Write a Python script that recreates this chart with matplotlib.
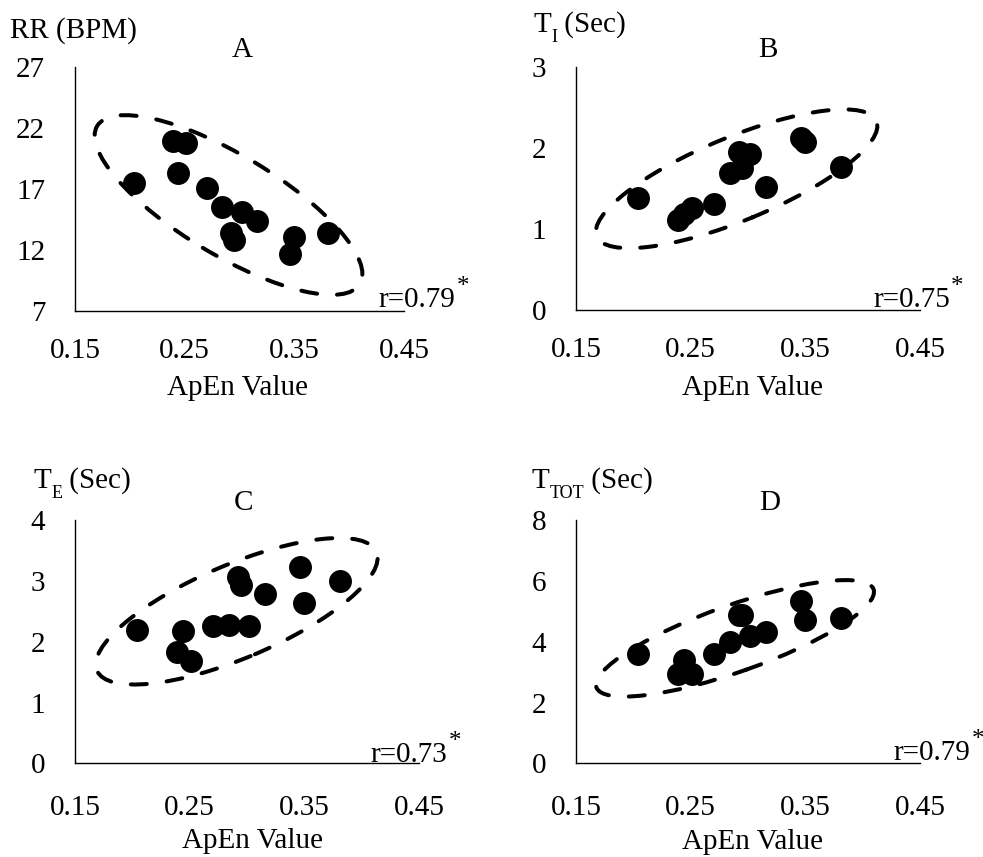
import numpy as np
import matplotlib
matplotlib.use('Agg')
import matplotlib.pyplot as plt
import matplotlib.transforms as transforms
from matplotlib.patches import Ellipse

# ApEn value for each subject (shared x of all four panels)
apen = [0.204, 0.239, 0.244, 0.251, 0.270, 0.284, 0.292, 0.295, 0.302, 0.316, 0.346, 0.350, 0.381]

rr = [17.5, 20.9, 18.3, 20.8, 17.1, 15.5, 13.4, 12.8, 15.1, 14.4, 11.7, 13.1, 13.4]
ti = [1.38, 1.11, 1.19, 1.26, 1.31, 1.69, 1.95, 1.75, 1.93, 1.52, 2.12, 2.07, 1.77]
te = [2.19, 1.83, 2.18, 1.69, 2.25, 2.28, 3.06, 2.94, 2.25, 2.78, 3.22, 2.64, 3.00]
ttot = [3.58, 2.94, 3.39, 2.94, 3.61, 4.00, 4.89, 4.89, 4.20, 4.31, 5.35, 4.72, 4.78]

panel_ids = ['A', 'B', 'C', 'D']
ylab_main = ['RR (BPM)', 'T', 'T', 'T']
ylab_sub = ['', 'I', 'E', 'TOT']
r_values = ['0.79', '0.75', '0.73', '0.79']
ylims = [(7, 27), (0, 3), (0, 4), (0, 8)]
yticks = [[7, 12, 17, 22, 27], [0, 1, 2, 3], [0, 1, 2, 3, 4], [0, 2, 4, 6, 8]]
xticks = [0.15, 0.25, 0.35, 0.45]

# hand drawn ellipses: centre (data), half axes (inch), angle (deg)
ell_center = [(0.290, 15.69), (0.290, 1.62), (0.291, 2.50), (0.2886, 4.11)]
ell_half = [(1.533, 0.500), (1.513, 0.417), (1.518, 0.467), (1.470, 0.333)]
ell_angle = [-31.0, 22.4, 23.0, 19.5]

plt.rcParams['font.family'] = ['Liberation Serif', 'DejaVu Serif']
plt.rcParams['lines.scale_dashes'] = False

fig = plt.figure(figsize=(9.83, 8.57), dpi=100)

# axes boxes in figure fraction
boxes = [[0.0763, 0.6371, 0.3347, 0.2847],
         [0.5860, 0.6383, 0.3500, 0.2835],
         [0.0763, 0.1093, 0.3500, 0.2839],
         [0.5860, 0.1093, 0.3500, 0.2839]]
title_x = [0.507, 0.558, 0.489, 0.564]
ylab_xy = [(-0.198, 1.119), (-0.124, 1.144), (-0.121, 1.131), (-0.129, 1.131)]
xlab_xy = [(0.495, -0.344), (0.512, -0.350), (0.517, -0.348), (0.512, -0.352)]
r_xy = [(0.921, 0.016), (0.863, 0.012), (0.858, 0.007), (0.922, 0.014)]
xpad = [19.5, 19.5, 23, 23]

series = [rr, ti, te, ttot]
fs = 21

for i in range(4):
    ax = fig.add_axes(boxes[i])
    ax.plot(apen, series[i], 'o', color='black', markersize=15.5, zorder=3)

    trans = fig.dpi_scale_trans + transforms.ScaledTranslation(
        ell_center[i][0], ell_center[i][1], ax.transData)
    ell = Ellipse((0, 0), 2 * ell_half[i][0], 2 * ell_half[i][1], angle=ell_angle[i],
                  transform=trans, fill=False, edgecolor='black', linewidth=2.9,
                  linestyle=(0, (11.5, 14.4)), capstyle='round', zorder=2)
    ax.add_patch(ell)

    ax.set_xlim(0.15, 0.45)
    ax.set_ylim(*ylims[i])
    ax.set_xticks(xticks)
    ax.set_xticklabels(['%.2f' % v for v in xticks])
    ax.set_yticks(yticks[i])
    ax.spines['top'].set_visible(False)
    ax.spines['right'].set_visible(False)
    for s in ['left', 'bottom']:
        ax.spines[s].set_linewidth(1.0)
    ax.tick_params(axis='x', length=0, pad=xpad[i], labelsize=fs)
    ax.tick_params(axis='y', length=0, pad=21.5, labelsize=fs)

    ax.text(title_x[i], 1.041, panel_ids[i], transform=ax.transAxes,
            ha='center', va='baseline', fontsize=fs)

    # y label, with a lowered small subscript
    t = ax.text(ylab_xy[i][0], ylab_xy[i][1], ylab_main[i], transform=ax.transAxes,
                ha='left', va='baseline', fontsize=fs)
    if ylab_sub[i]:
        sub = ax.annotate(ylab_sub[i], xy=(1, 0), xycoords=t, xytext=(0, -3),
                          textcoords='offset points', ha='left', va='baseline',
                          fontsize=13)
        ax.annotate(' (Sec)', xy=(1, 0), xycoords=(sub, t), xytext=(0, 0),
                    textcoords='offset points', ha='left', va='bottom', fontsize=fs)

    ax.text(xlab_xy[i][0], xlab_xy[i][1], 'ApEn Value', transform=ax.transAxes,
            ha='center', va='baseline', fontsize=fs)
    rt = ax.text(r_xy[i][0], r_xy[i][1], 'r=' + r_values[i], transform=ax.transAxes,
                 ha='left', va='baseline', fontsize=fs, clip_on=False)
    ax.annotate('*', xy=(1, 1), xycoords=rt, xytext=(1, -8),
                textcoords='offset points', ha='left', va='bottom', fontsize=18)

fig.savefig('out.png', dpi=100)
